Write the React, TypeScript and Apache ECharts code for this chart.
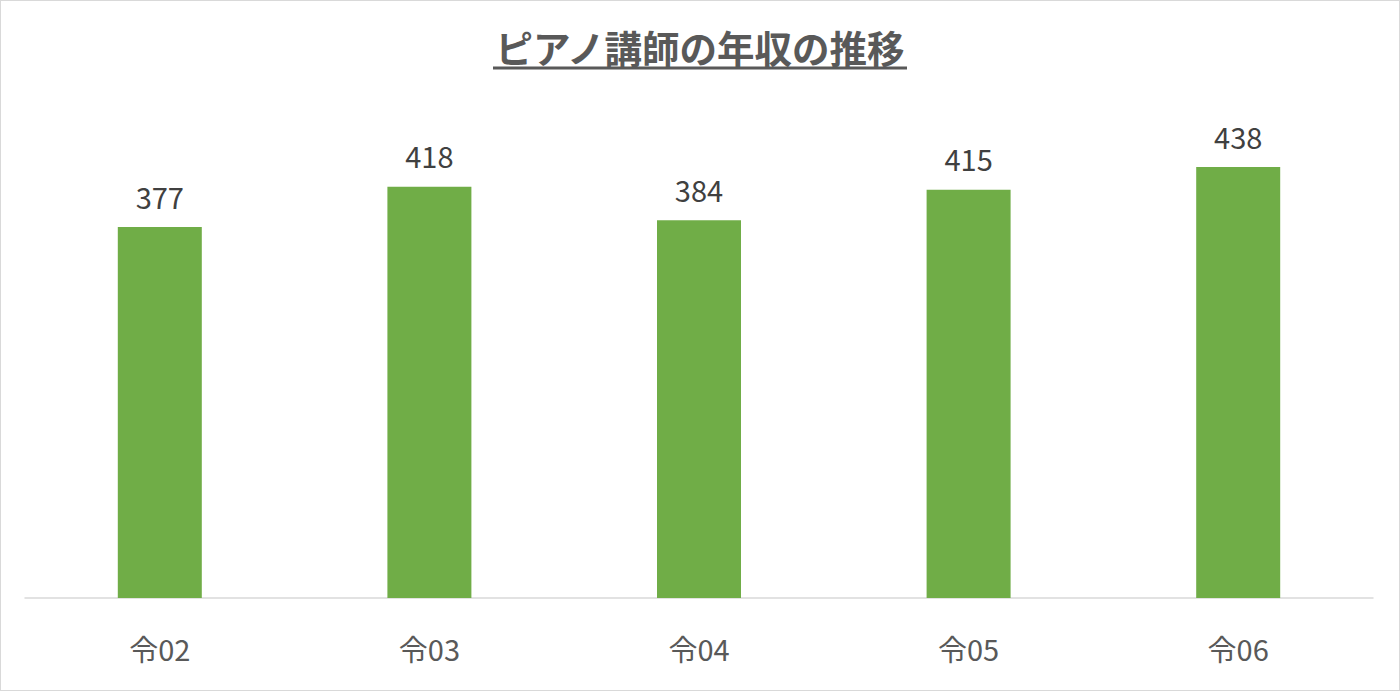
import React, { useRef, useEffect } from 'react';
import * as echarts from 'echarts';

const categories = ['令02', '令03', '令04', '令05', '令06'];
const incomes = [377, 418, 384, 415, 438];
const titleText = 'ピアノ講師の年収の推移';

const FONT = '"Noto Sans CJK JP", "Noto Sans", sans-serif';

const App: React.FC = () => {
  const chartRef = useRef<HTMLDivElement>(null);

  useEffect(() => {
    document.body.style.margin = '0';
    if (!chartRef.current) return;
    const chart = echarts.init(chartRef.current, undefined, { renderer: 'svg' });

    chart.setOption({
      animation: false,
      backgroundColor: '#ffffff',
      title: {
        text: titleText,
        left: 'center',
        top: 22,
        textStyle: {
          fontFamily: FONT,
          fontSize: 37.5,
          fontWeight: 'bold',
          color: '#595959',
        },
      },
      graphic: [
        {
          type: 'line',
          shape: { x1: 492, y1: 67, x2: 906, y2: 67 },
          style: { stroke: '#595959', lineWidth: 3 },
        },
      ],
      grid: { left: 24, right: 26, top: 105, bottom: 92 },
      xAxis: {
        type: 'category',
        data: categories,
        axisLine: { lineStyle: { color: '#d9d9d9', width: 1.5 } },
        axisTick: { show: false },
        axisLabel: {
          fontFamily: FONT,
          fontSize: 29,
          color: '#595959',
          margin: 35,
        },
      },
      yAxis: {
        type: 'value',
        min: 0,
        max: 500,
        show: false,
        splitLine: { show: false },
      },
      series: [
        {
          type: 'bar',
          data: incomes,
          barWidth: 84,
          itemStyle: { color: '#70ad47' },
          label: {
            show: true,
            position: 'top',
            distance: 17,
            fontFamily: FONT,
            fontSize: 29,
            color: '#404040',
          },
        },
      ],
    });

    return () => {
      chart.dispose();
    };
  }, []);

  return (
    <div
      ref={chartRef}
      style={{
        width: '1400px',
        height: '691px',
        boxSizing: 'border-box',
        border: '1.5px solid #d9d9d9',
      }}
    />
  );
};

export default App;
